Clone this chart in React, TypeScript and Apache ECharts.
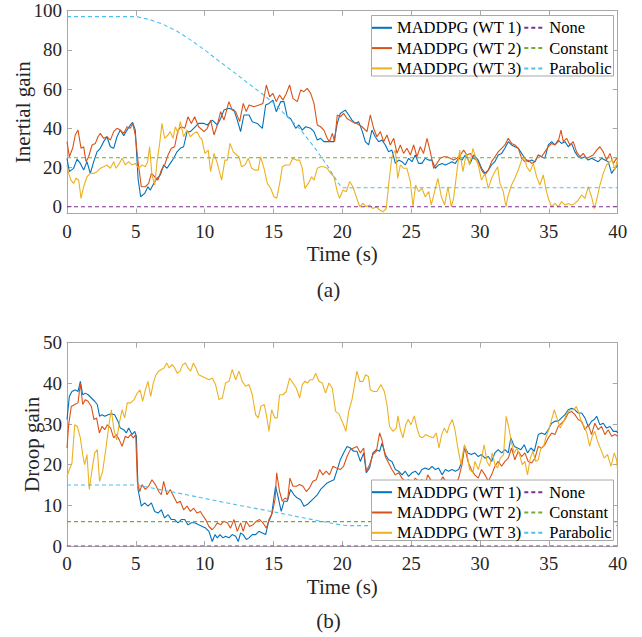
import React, { useEffect, useRef } from 'react';
import * as echarts from 'echarts';

// ---------- data (time s, value) ----------
const inertiaWt1: [number, number][] = [[0,24.7],[0.17,17.9],[0.48,19.6],[0.73,24.3],[0.97,22.1],[1.21,18.7],[1.45,23],[1.69,17],[1.94,23],[2.18,28],[2.42,29.8],[2.66,33.2],[2.9,35.7],[3.15,30.6],[3.39,29.8],[3.63,35.7],[3.87,39.1],[4.12,36.2],[4.36,39.1],[4.6,41.7],[4.77,43],[4.96,39.1],[5.16,14.5],[5.35,5.1],[5.64,6.8],[5.88,10.2],[6.05,8.5],[6.3,11.9],[6.54,14.5],[6.78,16.2],[7.02,21.3],[7.26,19.6],[7.5,22.1],[7.75,24.7],[7.99,28],[8.23,29.8],[8.47,30.6],[8.72,38.3],[8.96,38.3],[9.2,40],[9.56,42.5],[9.95,42.5],[10.19,41.7],[10.55,44.2],[10.92,41.7],[11.16,45],[11.4,49.3],[11.76,50.2],[12.13,49.3],[12.37,44.2],[12.61,38.3],[12.85,46.8],[13.22,46.8],[13.46,43.4],[13.82,42.5],[14.19,40],[14.43,51.9],[14.67,52.7],[14.96,54.4],[15.2,48.5],[15.52,53.6],[15.76,53.6],[16,45.9],[16.24,45],[16.61,40],[16.85,41.7],[17.09,39.1],[17.33,40.8],[17.7,40],[17.94,38.3],[18.18,34],[18.42,34.9],[18.66,33.2],[18.9,33.2],[19.15,33.2],[19.39,33.2],[19.63,42.5],[19.85,47.6],[20.21,49.3],[20.46,46.8],[20.7,44.2],[20.94,42.5],[21.18,43.4],[21.43,38.8],[21.67,33.2],[21.91,31.5],[22.15,39.1],[22.39,35.7],[22.64,33.2],[22.88,34],[23.12,31.5],[23.36,28],[23.6,28.9],[23.85,22.1],[24.09,23.8],[24.33,23],[24.57,21.3],[24.81,24.7],[25.06,23],[25.3,26.4],[25.54,22.1],[25.78,22.1],[26.02,24.7],[26.27,23.8],[26.51,23.8],[26.75,19.6],[26.99,21.3],[27.24,22.1],[27.48,21.3],[27.72,22.1],[27.96,23],[28.2,22.1],[28.45,24.7],[28.69,23.8],[28.93,26.4],[29.29,22.1],[29.54,26.4],[29.87,23.8],[30.11,19.6],[30.36,17],[30.6,18.7],[30.84,21.3],[31.08,23],[31.32,26.4],[31.57,27.2],[31.81,29.8],[32.05,33.2],[32.29,31.5],[32.53,30.6],[32.78,29.8],[33.02,27.2],[33.26,24.7],[33.5,23],[33.75,23.8],[33.99,23],[34.23,26.4],[34.47,25.5],[34.71,24.7],[34.96,31.5],[35.2,33.2],[35.44,31.5],[35.68,34],[35.92,32.3],[36.17,33.2],[36.41,30.6],[36.65,32.3],[36.89,28],[37.13,25.5],[37.38,24.7],[37.62,25.5],[37.86,23.8],[38.1,24.7],[38.34,23.8],[38.59,23],[38.83,24.7],[39.07,23.8],[39.31,23],[39.56,17],[39.8,19.6],[40,21.3]];

const inertiaWt2: [number, number][] = [[0,33.2],[0.17,25.5],[0.41,29.8],[0.6,36.6],[0.8,39.1],[1.02,29.8],[1.21,30.6],[1.38,23],[1.57,25.5],[1.82,31.5],[2.06,32.3],[2.25,35.7],[2.42,37.4],[2.66,34.9],[2.9,35.7],[3.15,34],[3.39,38.3],[3.63,40],[3.87,39.1],[4.12,37.4],[4.36,40.8],[4.6,40],[4.77,42.5],[4.96,36.6],[5.16,23],[5.4,10.2],[5.69,10.2],[5.93,11.9],[6.13,17],[6.37,15.3],[6.61,13.6],[6.85,18.7],[7.09,21.3],[7.34,26.4],[7.58,29.8],[7.82,30.6],[8.06,39.1],[8.3,40.8],[8.55,40],[8.79,45.9],[9.03,42.5],[9.27,45.9],[9.56,40.8],[9.95,38.3],[10.19,40],[10.43,44.2],[10.68,36.6],[10.92,41.7],[11.16,48.5],[11.4,44.2],[11.76,53.6],[12,49.3],[12.25,48.5],[12.54,43.4],[12.8,52.7],[13.02,48.5],[13.22,51.9],[13.58,51],[13.94,51.9],[14.23,52.7],[14.48,62.1],[14.72,56.1],[14.96,57.8],[15.2,53.6],[15.44,57],[15.69,54.4],[15.93,57.8],[16.17,62.1],[16.41,55.3],[16.73,53.6],[16.97,59.5],[17.21,58.7],[17.45,60.4],[17.7,57.8],[17.94,52.7],[18.18,41.7],[18.42,40.8],[18.66,39.1],[18.9,34.9],[19.07,33.2],[19.27,37.4],[19.44,33.2],[19.63,46.8],[19.85,45.9],[20.09,47.6],[20.34,45],[20.7,43.4],[21.06,42.5],[21.43,40.8],[21.79,38.3],[22.03,46.8],[22.27,40],[22.51,35.7],[22.76,38.3],[23,33.2],[23.24,36.6],[23.48,31.5],[23.73,34.9],[23.97,27.2],[24.21,31.5],[24.45,27.2],[24.69,29.8],[24.94,26.4],[25.18,31.5],[25.42,25.5],[25.66,30.6],[25.9,27.2],[26.15,34.9],[26.39,28],[26.63,19.6],[26.87,22.1],[27.11,24.7],[27.36,25.5],[27.6,25.5],[27.84,24.7],[28.08,23.8],[28.32,24.7],[28.57,26.4],[28.81,28.9],[29.05,26.4],[29.29,27.2],[29.54,24.7],[29.87,23],[30.11,18.7],[30.36,16.2],[30.6,18.7],[30.84,23],[31.08,25.5],[31.32,28],[31.57,29.8],[31.81,31.5],[32.05,34.9],[32.29,32.3],[32.53,31.5],[32.78,29.8],[33.02,24.7],[33.26,23],[33.5,23.8],[33.75,22.1],[33.99,23],[34.23,26.4],[34.47,25.5],[34.71,28],[34.96,30.6],[35.2,32.3],[35.44,31.5],[35.68,33.2],[35.88,39.1],[36.05,33.2],[36.29,34.9],[36.53,31.5],[36.77,33.2],[37.01,28],[37.26,25.5],[37.5,27.2],[37.74,24.7],[37.98,25.5],[38.22,26.4],[38.47,28.9],[38.71,30.6],[38.95,28],[39.19,23.8],[39.44,27.2],[39.68,22.1],[39.92,24.7],[40,23.8]];

const inertiaWt3: [number, number][] = [[0,21.3],[0.12,17],[0.29,13.6],[0.48,11.9],[0.65,14.5],[0.85,13.6],[1.02,4.3],[1.21,10.2],[1.45,15.3],[1.69,17],[1.94,17],[2.18,17.9],[2.42,19.6],[2.66,20.4],[2.9,21.3],[3.15,19.6],[3.39,23],[3.56,19.6],[3.8,22.1],[4,24.7],[4.24,21.3],[4.48,23],[4.72,21.3],[4.96,22.1],[5.21,19.6],[5.45,21.3],[5.69,20.4],[5.86,23],[6,30.6],[6.17,16.2],[6.37,11.1],[6.54,23],[6.73,32.3],[6.9,42.5],[7.09,34.9],[7.34,36.6],[7.5,38.3],[7.7,34.9],[7.87,40.8],[8.06,37.4],[8.23,43.4],[8.47,35.7],[8.72,39.1],[8.96,35.7],[9.2,37.4],[9.44,38.3],[9.69,34.9],[9.78,34.9],[10.02,27.2],[10.26,28.9],[10.43,17.9],[10.68,27.2],[10.92,22.1],[11.23,13.6],[11.47,23.8],[11.64,23.8],[11.84,32.3],[12.08,28],[12.32,26.4],[12.49,25.5],[12.68,20.4],[12.93,21.3],[13.17,24.7],[13.41,19.6],[13.65,18.7],[13.89,18.7],[14.06,25.5],[14.31,19.6],[14.55,11.9],[14.79,9.4],[15.03,5.1],[15.23,4.3],[15.47,12.8],[15.64,20.4],[15.88,21.3],[16.17,21.3],[16.41,24.7],[16.66,23.8],[16.9,23.8],[17.09,19.6],[17.28,9.4],[17.53,11.9],[17.77,15.3],[17.94,13.6],[18.18,19.6],[18.42,20.4],[18.66,20.4],[18.9,19.6],[19.15,17],[19.39,15.3],[19.63,7.7],[19.8,4.3],[20.05,8.5],[20.29,7.7],[20.53,12.8],[20.77,10.2],[21.01,5.1],[21.26,0],[21.5,1.7],[21.74,0],[21.98,0.9],[22.22,-0.9],[22.47,0],[22.71,-1.7],[22.95,-2.6],[23.19,-0.9],[23.36,11.1],[23.6,25.5],[23.85,28.9],[24.02,14.5],[24.21,21.3],[24.45,19.6],[24.69,19.6],[24.94,12.8],[25.13,0],[25.32,11.1],[25.54,7.7],[25.78,9.4],[26.02,5.1],[26.27,7.7],[26.46,0.9],[26.7,7.7],[26.94,14.5],[27.19,5.1],[27.43,0.9],[27.67,10.2],[27.91,0],[28.08,4.3],[28.32,17.9],[28.52,28.9],[28.76,17.9],[29,27.2],[29.24,21.3],[29.49,29.8],[29.73,23.8],[29.87,21.3],[30.11,13.6],[30.36,17],[30.6,9.4],[30.84,14.5],[31.08,17.9],[31.28,20.4],[31.45,11.9],[31.69,7.7],[31.88,0],[32.05,6],[32.29,11.1],[32.53,14.5],[32.78,18.7],[33.02,23.8],[33.22,25.5],[33.39,20.4],[33.63,17.9],[33.87,22.1],[34.11,15.3],[34.35,11.1],[34.59,16.2],[34.83,7.7],[35,3.4],[35.2,0],[35.44,1.7],[35.68,0],[35.92,2.6],[36.17,0.9],[36.41,1.7],[36.65,0.9],[36.89,1.7],[37.13,3.4],[37.38,6],[37.62,4.3],[37.86,10.2],[38.1,5.1],[38.3,-0.9],[38.47,3.4],[38.71,11.1],[38.95,17],[39.19,21.3],[39.44,23],[39.61,23.8],[39.8,18.7],[40,24.7]];

const inertiaNone: [number, number][] = [[0,0],[40,0]];
const inertiaConstant: [number, number][] = [[0,25],[40,25]];
const inertiaParabolic: [number, number][] = [[0,97],[5,97],[6,95.5],[7,93],[8,89.5],[9,85],[10,80],[11,74.5],[12,69.3],[13,63.8],[14,58.5],[15,53],[16,46],[17,39],[18,30],[19,20],[19.7,12],[20,9.7],[40,9.7]];

const droopWt1: [number, number][] = [[0,31.1],[0.17,36.8],[0.36,38],[0.6,38.4],[0.8,38],[0.97,40.5],[1.14,37.2],[1.33,37.6],[1.53,37.2],[1.77,36.4],[2.01,35.6],[2.2,34.8],[2.37,31.9],[2.54,32.3],[2.74,31.9],[2.98,32.3],[3.22,32.5],[3.46,32.3],[3.7,30.7],[3.87,29],[4.12,28.6],[4.31,27.8],[4.48,29],[4.72,27.4],[4.92,28.2],[5.04,27],[5.16,13.9],[5.4,9.8],[5.64,10.6],[5.88,9.8],[6.13,10.6],[6.37,8.5],[6.61,8.1],[6.85,8.9],[7.09,6.9],[7.34,7.7],[7.58,6.5],[7.82,6.5],[8.06,5.7],[8.3,6.5],[8.55,6.5],[8.79,5.2],[9.03,5.7],[9.27,5.7],[9.56,5.2],[9.83,4.8],[10.07,4.4],[10.31,3.6],[10.55,1.1],[10.75,2.8],[10.92,2],[11.11,2.8],[11.33,2],[11.52,2.4],[11.76,2],[12,2.8],[12.25,2.4],[12.44,1.1],[12.61,3.2],[12.8,2.8],[13.02,1.6],[13.22,2],[13.46,2.8],[13.7,2.8],[13.94,3.6],[14.19,3.2],[14.43,2.8],[14.62,5.7],[14.86,7.7],[15.15,14.7],[15.35,11.8],[15.56,8.5],[15.76,11],[16,11],[16.24,13.9],[16.49,12.6],[16.73,11.8],[16.97,11.4],[17.21,9.8],[17.45,10.2],[17.7,11],[17.94,11.8],[18.18,12.6],[18.42,13.9],[18.66,14.7],[18.9,15.5],[19.15,15.9],[19.39,16.3],[19.63,18.8],[19.85,21.2],[20.09,22.9],[20.34,24.5],[20.58,24.1],[20.82,23.3],[21.06,23.3],[21.31,20.8],[21.55,22.9],[21.74,18],[21.98,19.2],[22.22,22.9],[22.47,23.7],[22.71,23.3],[22.88,25.3],[23.12,22.5],[23.36,21.2],[23.6,20.8],[23.85,18.8],[24.09,18.4],[24.33,17.5],[24.57,18.4],[24.81,17.1],[25.06,18],[25.3,18.4],[25.54,17.5],[25.78,18.8],[26.02,19.2],[26.27,18.8],[26.51,19.6],[26.75,18.8],[26.99,19.2],[27.24,17.5],[27.48,18.8],[27.72,18.4],[27.96,18.8],[28.2,18.4],[28.45,18.8],[28.69,20.8],[28.88,24.5],[29.12,22.9],[29.37,22.5],[29.61,22.9],[29.87,22],[30.11,22.5],[30.36,21.6],[30.6,22],[30.84,20.8],[31.08,22.9],[31.32,23.7],[31.57,22.9],[31.81,23.7],[32.05,22.9],[32.24,26.6],[32.49,24.5],[32.73,24.1],[32.97,23.7],[33.21,24.9],[33.45,22.9],[33.7,24.1],[33.94,23.3],[34.23,27.4],[34.47,27.8],[34.71,27.4],[34.96,28.6],[35.2,30.2],[35.44,30.7],[35.68,30.7],[35.92,31.5],[36.17,32.3],[36.41,33.5],[36.65,33.9],[36.89,33.5],[37.13,32.7],[37.38,32.7],[37.62,31.5],[37.86,29.4],[38.1,30.7],[38.3,31.1],[38.47,31.9],[38.71,29.8],[38.95,30.2],[39.19,29],[39.44,29.4],[39.68,28.2],[39.92,28.2],[40,27.8]];

const droopWt2: [number, number][] = [[0,24.1],[0.12,29.8],[0.31,34.3],[0.56,34.8],[0.8,35.2],[0.97,40.1],[1.14,34.8],[1.33,36],[1.53,35.6],[1.77,34.3],[1.96,31.1],[2.15,31.5],[2.35,27.8],[2.54,29.4],[2.74,28.6],[2.93,29.8],[3.17,29],[3.39,26.6],[3.58,27.4],[3.8,26.1],[4,24.5],[4.24,27],[4.43,26.6],[4.62,27.4],[4.82,26.6],[4.99,27.4],[5.11,15.9],[5.28,13.4],[5.45,15.1],[5.69,13.9],[5.93,14.7],[6.17,16.3],[6.42,15.1],[6.66,13.4],[6.85,12.6],[7.02,15.9],[7.26,12.6],[7.5,13.9],[7.75,12.2],[7.99,10.6],[8.23,11],[8.47,8.9],[8.72,9.8],[8.96,8.5],[9.2,9.3],[9.44,8.1],[9.69,8.5],[9.83,7.7],[10.07,6.5],[10.31,4.8],[10.55,4],[10.75,4.8],[10.92,5.7],[11.16,5.2],[11.4,6.1],[11.64,5.7],[11.88,4.4],[12.13,6.5],[12.37,3.6],[12.61,5.7],[12.8,3.6],[13.02,6.1],[13.26,4.8],[13.51,5.2],[13.75,6.1],[13.99,6.5],[14.23,5.7],[14.48,4.4],[14.67,6.5],[14.91,8.1],[15.11,11.4],[15.23,18],[15.44,13.4],[15.64,11],[15.83,11.8],[16.03,11.4],[16.19,16.7],[16.41,14.7],[16.66,14.7],[16.9,15.1],[17.14,14.7],[17.38,13.4],[17.62,14.3],[17.86,15.9],[18.11,16.3],[18.35,18.8],[18.59,17.5],[18.83,18.4],[19.07,17.5],[19.32,19.6],[19.56,19.2],[19.85,18.8],[20.09,19.6],[20.34,22],[20.58,23.7],[20.82,24.1],[21.06,24.5],[21.31,22.9],[21.55,24.1],[21.74,18.4],[21.98,20],[22.22,22.5],[22.47,23.3],[22.71,27.8],[22.88,26.1],[23.12,22],[23.36,20.4],[23.6,18.8],[23.85,17.5],[24.09,18],[24.33,16.7],[24.57,15.9],[24.81,16.3],[25.06,15.1],[25.3,16.7],[25.54,15.9],[25.78,16.3],[26.02,15.1],[26.2,17.5],[26.5,15.8],[26.9,14.6],[27.3,17],[27.6,15.4],[28.1,14.2],[28.45,16.7],[28.69,20],[28.88,24.5],[29.12,20.8],[29.37,18.8],[29.61,17.5],[29.87,16.7],[30.11,18.8],[30.36,17.5],[30.6,15.9],[30.84,17.5],[31.08,19.6],[31.32,20.8],[31.57,19.6],[31.81,20.8],[32.05,21.6],[32.29,24.1],[32.53,21.2],[32.78,23.3],[33.02,22],[33.26,22.9],[33.5,20.8],[33.75,20.4],[33.99,21.6],[34.23,24.5],[34.47,24.1],[34.71,24.9],[34.96,26.6],[35.2,27.8],[35.44,27.4],[35.68,29.4],[35.92,30.2],[36.17,31.1],[36.41,32.7],[36.65,33.1],[36.89,32.3],[37.13,31.1],[37.38,30.7],[37.62,28.6],[37.86,29.8],[38.1,27.4],[38.34,30.2],[38.59,28.6],[38.83,29.4],[39.07,27.4],[39.31,28.6],[39.56,27],[39.8,27.4],[40,27]];

const droopWt3: [number, number][] = [[0,17.1],[0.17,18.8],[0.36,20.4],[0.56,29.8],[0.75,29.4],[0.97,26.6],[1.14,22.5],[1.28,20],[1.45,22.5],[1.62,13.9],[1.82,18.8],[2.01,22.9],[2.2,23.7],[2.37,15.9],[2.59,18.4],[2.83,24.1],[3.03,29.4],[3.22,33.5],[3.41,28.6],[3.61,26.1],[3.8,30.2],[4,33.5],[4.19,31.5],[4.38,35.2],[4.62,35.2],[4.87,36],[5.11,37.6],[5.3,38.4],[5.5,35.6],[5.69,38.4],[5.88,40.5],[6.08,36.8],[6.27,40.1],[6.46,42.1],[6.66,43],[6.85,43.4],[7.05,43.8],[7.24,45],[7.43,43.8],[7.63,44.6],[7.82,43.8],[8.01,42.5],[8.21,43],[8.4,44.6],[8.6,45],[8.79,43.8],[8.98,43],[9.18,45],[9.37,43.8],[9.56,42.1],[9.83,41.7],[10.07,41.3],[10.31,40.9],[10.55,41.3],[10.79,39.7],[11.04,36],[11.28,36.4],[11.52,40.1],[11.76,40.5],[12,43.4],[12.25,40.9],[12.49,43],[12.73,40.5],[12.97,39.3],[13.22,39.7],[13.46,37.2],[13.7,32.3],[13.89,31.5],[14.09,34.4],[14.33,34.8],[14.52,31.5],[14.67,28.2],[14.86,33.5],[15.1,31.5],[15.27,31.5],[15.44,37.2],[15.69,37.2],[15.93,38],[16.17,41.3],[16.41,40.1],[16.66,38.8],[16.9,36.4],[17.09,39.7],[17.28,40.5],[17.48,40.1],[17.67,40.9],[17.86,40.9],[18.06,42.5],[18.3,40.5],[18.54,40.1],[18.78,37.6],[19.03,40.1],[19.27,38.8],[19.51,33.1],[19.75,32.5],[20.09,29.8],[20.26,28.2],[20.46,33.1],[20.7,36],[20.87,39.3],[21.06,43],[21.26,40.5],[21.5,40.5],[21.69,42.1],[21.89,41.7],[22.03,38.4],[22.27,38],[22.51,38],[22.8,39.7],[23.05,38],[23.24,34.8],[23.43,29.4],[23.68,28.2],[23.92,29],[24.04,32],[24.21,28.7],[24.4,26.6],[24.6,29.8],[24.79,31.1],[24.98,29.8],[25.23,32],[25.42,29],[25.61,27],[25.81,26.6],[26.05,27.4],[26.29,27],[26.58,26.6],[26.82,27.8],[27.02,24.1],[27.21,27.4],[27.4,29],[27.6,27.8],[27.79,29.8],[27.99,31.1],[28.18,28.6],[28.37,24.5],[28.62,20],[28.86,24.9],[29.05,22.9],[29.24,18.8],[29.49,18],[29.63,20.8],[29.87,18.8],[30.11,21.6],[30.3,24.9],[30.5,20.8],[30.7,19.6],[30.89,22.9],[31.08,20],[31.28,19.2],[31.47,21.6],[31.71,22.5],[31.9,31.9],[32.1,29],[32.29,25.3],[32.49,22.9],[32.68,24.1],[32.87,22.5],[33.07,20],[33.26,20.8],[33.45,17.5],[33.65,21.6],[33.84,23.3],[34.04,20.8],[34.23,21.2],[34.42,24.1],[34.62,24.5],[34.81,27],[35,28.6],[35.2,31.1],[35.39,33.5],[35.58,31.5],[35.83,29],[36.07,30.7],[36.31,32.7],[36.55,33.5],[36.8,33.5],[36.99,34.3],[37.18,32.7],[37.38,30.2],[37.57,29.4],[37.76,27.8],[37.96,24.5],[38.15,27],[38.34,28.2],[38.54,25.7],[38.78,23.7],[39.02,21.6],[39.26,22.5],[39.51,19.6],[39.75,22.9],[39.92,21.2],[40,18.4]];

const droopNone: [number, number][] = [[0,0],[40,0]];
const droopConstant: [number, number][] = [[0,6],[40,6]];
const droopParabolic: [number, number][] = [[0,15],[5,15],[7.5,13.4],[10,11.7],[12.5,10],[15,8.4],[17.5,6.7],[20,5.1],[20.5,5],[40,5]];

const seriesNames = ['MADDPG (WT 1)', 'MADDPG (WT 2)', 'MADDPG (WT 3)'];
const refNames = ['None', 'Constant', 'Parabolic'];
const timeTicksInterval = 5;

// ---------- styles ----------
const FONT = 'Times New Roman';
const AXIS_COLOR = '#a8a8a8';
const TEXT_COLOR = '#262626';
const COLORS = ['#0072BD', '#D95319', '#EDB120', '#7E2F8E', '#77AC30', '#4DBEEE'];

function buildXAxes(gridIndex: number) {
  const common = {
    type: 'value', gridIndex, min: 0, max: 40, interval: timeTicksInterval,
    splitLine: { show: false },
    axisLine: { show: true, onZero: false, lineStyle: { color: AXIS_COLOR, width: 1 } },
    axisTick: { show: true, inside: true, length: 5, lineStyle: { color: AXIS_COLOR } },
  };
  return [
    {
      ...common, position: 'bottom', name: 'Time (s)', nameLocation: 'middle', nameGap: 30,
      nameMoveOverlap: false,
      nameTextStyle: { fontFamily: FONT, fontSize: 21, color: TEXT_COLOR },
      axisLabel: { fontFamily: FONT, fontSize: 19, color: TEXT_COLOR, margin: 8 },
    },
    { ...common, position: 'top', axisLabel: { show: false } },
  ];
}

function buildYAxes(gridIndex: number, name: string, min: number, max: number, step: number, nameGap: number) {
  const common = {
    type: 'value', gridIndex, min, max, splitNumber: 5,
    splitLine: { show: false },
    axisLine: { show: true, onZero: false, lineStyle: { color: AXIS_COLOR, width: 1 } },
    axisTick: { show: true, inside: true, length: 5, lineStyle: { color: AXIS_COLOR } },
  };
  return [
    {
      ...common, position: 'left', name, nameLocation: 'middle', nameGap,
      nameMoveOverlap: false,
      nameTextStyle: { fontFamily: FONT, fontSize: 21, color: TEXT_COLOR },
      axisLabel: {
        fontFamily: FONT, fontSize: 19, color: TEXT_COLOR, margin: 5,
        formatter: (v: number) => (Math.abs(v / step - Math.round(v / step)) < 1e-6 ? String(v) : ''),
      },
    },
    { ...common, position: 'right', axisLabel: { show: false } },
  ];
}

function line(name: string, data: [number, number][], color: string, xi: number, yi: number, dashed: boolean) {
  return {
    type: 'line', name, data, xAxisIndex: xi, yAxisIndex: yi,
    showSymbol: false, symbol: 'none', silent: true, z: dashed ? 3 : 2,
    lineStyle: { color, width: 1.1, type: dashed ? [4, 3] : 'solid' },
    itemStyle: { color },
  };
}

function legendPair(top: number) {
  const base = {
    orient: 'vertical', top, itemWidth: 20, itemHeight: 14, itemGap: 3.3, padding: 0,
    selectedMode: false, z: 6,
    itemStyle: { opacity: 0 },
    textStyle: { fontFamily: FONT, fontSize: 16.5, color: '#000', lineHeight: 16 },
  };
  return [
    { ...base, left: 371, data: seriesNames },
    { ...base, left: 523.3, data: refNames },
  ];
}

export default function App() {
  const ref = useRef<HTMLDivElement>(null);
  useEffect(() => {
    if (!ref.current) return;
    const chart = echarts.init(ref.current, null, { renderer: 'svg' });
    const option: any = {
      animation: false,
      backgroundColor: '#ffffff',
      textStyle: { fontFamily: FONT },
      grid: [
        { left: 67, top: 10.7, width: 550.7, height: 202.9 },
        { left: 67, top: 342.7, width: 550.7, height: 203.3 },
      ],
      xAxis: [...buildXAxes(0), ...buildXAxes(1)],
      yAxis: [
        ...buildYAxes(0, 'Inertial gain', -3.5, 100, 20, 34),
        ...buildYAxes(1, 'Droop gain', 0, 50, 10, 25),
      ],
      legend: [...legendPair(19.3), ...legendPair(483.7)],
      graphic: [
        { type: 'rect', z: 5, shape: { x: 371.5, y: 15.5, width: 242, height: 60.5 }, style: { fill: '#fff', stroke: AXIS_COLOR, lineWidth: 1 } },
        { type: 'rect', z: 5, shape: { x: 371.5, y: 480, width: 242, height: 60.5 }, style: { fill: '#fff', stroke: AXIS_COLOR, lineWidth: 1 } },
        { type: 'text', z: 5, x: 328.5, y: 290, style: { text: '(a)', fontFamily: FONT, fontSize: 21, fill: TEXT_COLOR, textAlign: 'center', textVerticalAlign: 'middle' } },
        { type: 'text', z: 5, x: 328.5, y: 621, style: { text: '(b)', fontFamily: FONT, fontSize: 21, fill: TEXT_COLOR, textAlign: 'center', textVerticalAlign: 'middle' } },
      ],
      series: [
        line(seriesNames[0], inertiaWt1, COLORS[0], 0, 0, false),
        line(seriesNames[1], inertiaWt2, COLORS[1], 0, 0, false),
        line(seriesNames[2], inertiaWt3, COLORS[2], 0, 0, false),
        line(refNames[0], inertiaNone, COLORS[3], 0, 0, true),
        line(refNames[1], inertiaConstant, COLORS[4], 0, 0, true),
        line(refNames[2], inertiaParabolic, COLORS[5], 0, 0, true),
        line(seriesNames[0], droopWt1, COLORS[0], 2, 2, false),
        line(seriesNames[1], droopWt2, COLORS[1], 2, 2, false),
        line(seriesNames[2], droopWt3, COLORS[2], 2, 2, false),
        line(refNames[0], droopNone, COLORS[3], 2, 2, true),
        line(refNames[1], droopConstant, COLORS[4], 2, 2, true),
        line(refNames[2], droopParabolic, COLORS[5], 2, 2, true),
      ],
    };
    chart.setOption(option);
    return () => chart.dispose();
  }, []);
  return (
    <div
      ref={ref}
      style={{ position: 'absolute', left: 0, top: 0, width: 642, height: 637, background: '#fff' }}
    />
  );
}
